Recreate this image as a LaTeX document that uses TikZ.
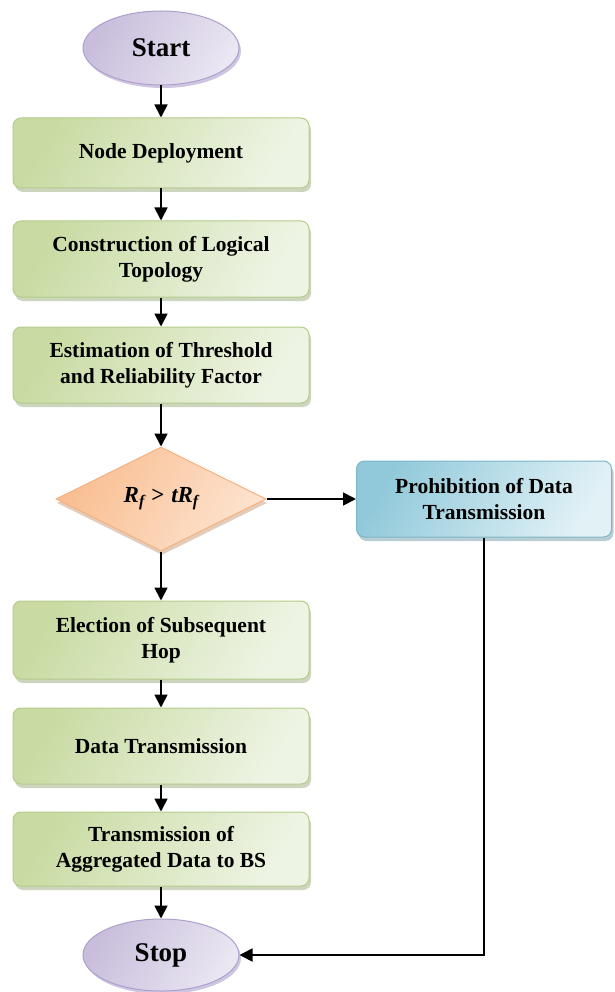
\documentclass[tikz,border=0pt]{standalone}
\usepackage{fontspec}
\setmainfont{Liberation Serif}
\usetikzlibrary{shapes.geometric,shadows,arrows.meta}
\definecolor{grA}{HTML}{C9DBA3}
\definecolor{grB}{HTML}{EEF4E4}
\definecolor{grD}{HTML}{B4CB8A}
\definecolor{puA}{HTML}{C8BEDC}
\definecolor{puB}{HTML}{EAE6F2}
\definecolor{puD}{HTML}{AE9FCB}
\definecolor{orA}{HTML}{F9BE91}
\definecolor{orB}{HTML}{FDE3CF}
\definecolor{orD}{HTML}{F4B27F}
\definecolor{blA}{HTML}{91C9DA}
\definecolor{blB}{HTML}{E1F1F6}
\definecolor{blD}{HTML}{7DB6C8}
\tikzset{
  txt/.style={font=\fontsize{21.5}{26}\selectfont\bfseries, align=center, text=black},
  gbox/.style={txt, rectangle, rounded corners=8pt, draw=grD, line width=1pt,
    shading=axis, left color=grA, right color=grB, shading angle=60,
    minimum width=296pt, inner sep=2pt,
    drop shadow={shadow xshift=2pt, shadow yshift=-4pt, fill=grD!80!black, opacity=0.45}},
  term/.style={txt, ellipse, draw=puD, line width=1pt, shading=axis,
    left color=puA, right color=puB, shading angle=60, minimum width=156pt, minimum height=74pt,
    inner sep=0pt,
    drop shadow={shadow xshift=2pt, shadow yshift=-3pt, fill=puD, opacity=0.6}},
  dec/.style={txt, diamond, draw=orD, line width=1pt, shading=axis,
    left color=orA, right color=orB, shading angle=60, minimum width=210pt, minimum height=104pt,
    inner sep=0pt, aspect=2,
    drop shadow={shadow xshift=1pt, shadow yshift=-4pt, fill=orD!80!black, opacity=0.45}},
  bbox/.style={txt, rectangle, rounded corners=8pt, draw=blD, line width=1pt,
    shading=axis, left color=blA, right color=blB, shading angle=60,
    minimum width=255pt, minimum height=76pt, inner sep=2pt,
    drop shadow={shadow xshift=2pt, shadow yshift=-4pt, fill=blD!80!black, opacity=0.45}},
  arr/.style={line width=1.8pt, -{Triangle[width=13pt,length=13pt]}},
}
\begin{document}
\begin{tikzpicture}[x=1pt,y=-1pt]
\useasboundingbox (0,0) rectangle (614,992);
\node[term] (start) at (161,48) {\fontsize{27}{30}\selectfont Start};
\node[gbox, minimum height=70pt] (b1) at (161,153) {Node Deployment};
\node[gbox, minimum height=76pt] (b2) at (161,259) {Construction of Logical\\Topology};
\node[gbox, minimum height=76pt] (b3) at (161,365) {Estimation of Threshold\\and Reliability Factor};
\node[dec] (d) at (161,499) {\fontsize{23}{26}\selectfont\itshape R\raisebox{-0.35ex}{\fontsize{16}{16}\selectfont f}\hspace{0.3em}\upshape{>}\hspace{0.3em}\itshape tR\raisebox{-0.35ex}{\fontsize{16}{16}\selectfont f}};
\node[bbox] (p) at (484,499) {Prohibition of Data\\Transmission};
\node[gbox, minimum height=78pt] (b4) at (161,640) {Election of Subsequent\\Hop};
\node[gbox, minimum height=76pt] (b5) at (161,746) {Data Transmission};
\node[gbox, minimum height=74pt] (b6) at (161,849) {Transmission of\\Aggregated Data to BS};
\node[term, minimum height=72pt] (stop) at (161,955) {\fontsize{27}{30}\selectfont Stop};
\draw[arr] (start) -- (b1);
\draw[arr] (b1) -- (b2);
\draw[arr] (b2) -- (b3);
\draw[arr] (b3) -- (d);
\draw[arr] (d) -- (p);
\draw[arr] (d) -- (b4);
\draw[arr] (b4) -- (b5);
\draw[arr] (b5) -- (b6);
\draw[arr] (b6) -- (stop);
\draw[arr] (p.south) |- (stop.east);
\end{tikzpicture}
\end{document}
